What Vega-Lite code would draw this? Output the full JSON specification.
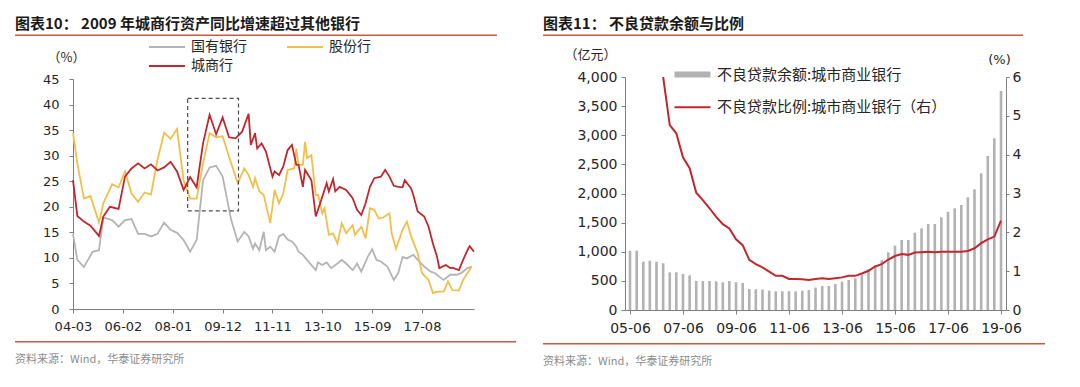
{
"$schema":"https://vega.github.io/schema/vega-lite/v6.json",
"background":"white",
"padding":{"left":15,"top":16.5,"right":5,"bottom":5},
"config":{
 "view":{"stroke":null},
 "font":"Noto Sans CJK SC",
 "axis":{"grid":false,"domainColor":"#7f7f7f","tickColor":"#7f7f7f","tickSize":4,"labelFont":"DejaVu Sans","labelFontSize":13,"labelColor":"#262626","titleFont":"Noto Sans CJK SC","titleFontWeight":"normal","titleFontSize":13,"titleColor":"#262626","labelFlush":false,"labelOverlap":false,"labelBound":false},
 "legend":{"labelFont":"Noto Sans CJK SC","labelFontSize":15,"labelColor":"#262626","padding":0,"labelLimit":500},
 "title":{"font":"Noto Sans CJK SC"}
},
"spacing":27,
"resolve":{"scale":{"color":"independent","fill":"independent","stroke":"independent"},"legend":{"color":"independent","fill":"independent","stroke":"independent"}},
"hconcat":[
 {
  "spacing":3.5,
  "resolve":{"scale":{"color":"independent","fill":"independent","stroke":"independent"},"legend":{"color":"independent","fill":"independent","stroke":"independent"}},
  "vconcat":[
   {"width":482,"height":1.5,"view":{"fill":"#c55a45","stroke":null},
    "title":{"text":"图表10： 2009 年城商行资产同比增速超过其他银行","anchor":"start","fontSize":15,"fontWeight":"bold","color":"#1a1a1a","offset":3},
    "data":{"values":[{}]},"mark":{"type":"point","opacity":0,"size":1},"encoding":{}},
   {
    "spacing":8,
    "resolve":{"scale":{"color":"independent","fill":"independent","stroke":"independent"},"legend":{"color":"independent","fill":"independent","stroke":"independent"}},
    "vconcat":[
     {
      "spacing":0,
      "resolve":{"scale":{"color":"independent","fill":"independent","stroke":"independent"},"legend":{"color":"independent","fill":"independent","stroke":"independent"}},
      "hconcat":[
       {"width":26.5,"height":230,"view":{"fill":"transparent","stroke":null},"data":{"values":[{}]},"mark":{"type":"point","opacity":0,"size":1},"encoding":{}},
       {
        "width":401,"height":230,
        "layer":[
         {
          "data":{"values":[
{"d":"2004-03","s":"国有银行","v":14.7},{"d":"2004-05","s":"国有银行","v":9.6},{"d":"2004-08","s":"国有银行","v":8.2},{"d":"2004-12","s":"国有银行","v":11.2},{"d":"2005-03","s":"国有银行","v":11.5},{"d":"2005-05","s":"国有银行","v":17.9},{"d":"2005-09","s":"国有银行","v":17.4},{"d":"2005-12","s":"国有银行","v":16.1},{"d":"2006-03","s":"国有银行","v":17.4},{"d":"2006-06","s":"国有银行","v":17.6},{"d":"2006-09","s":"国有银行","v":14.7},{"d":"2006-12","s":"国有银行","v":14.7},{"d":"2007-03","s":"国有银行","v":14.2},{"d":"2007-06","s":"国有银行","v":14.7},{"d":"2007-09","s":"国有银行","v":16.9},{"d":"2007-12","s":"国有银行","v":15.5},{"d":"2008-03","s":"国有银行","v":14.9},{"d":"2008-06","s":"国有银行","v":13.5},{"d":"2008-09","s":"国有银行","v":11.2},{"d":"2008-12","s":"国有银行","v":13.5},{"d":"2009-03","s":"国有银行","v":25.2},{"d":"2009-06","s":"国有银行","v":27.7},{"d":"2009-09","s":"国有银行","v":28.0},{"d":"2009-12","s":"国有银行","v":25.9},{"d":"2010-04","s":"国有银行","v":17.4},{"d":"2010-07","s":"国有银行","v":13.2},{"d":"2010-10","s":"国有银行","v":15.1},{"d":"2010-12","s":"国有银行","v":14.2},{"d":"2011-02","s":"国有银行","v":11.8},{"d":"2011-03","s":"国有银行","v":12.8},{"d":"2011-05","s":"国有银行","v":11.5},{"d":"2011-07","s":"国有银行","v":15.1},{"d":"2011-08","s":"国有银行","v":11.5},{"d":"2011-10","s":"国有银行","v":12.2},{"d":"2011-12","s":"国有银行","v":11.2},{"d":"2012-02","s":"国有银行","v":14.2},{"d":"2012-04","s":"国有银行","v":14.7},{"d":"2012-06","s":"国有银行","v":13.6},{"d":"2012-08","s":"国有银行","v":13.2},{"d":"2012-10","s":"国有银行","v":12.2},{"d":"2012-11","s":"国有银行","v":11.2},{"d":"2013-01","s":"国有银行","v":10.6},{"d":"2013-03","s":"国有银行","v":9.6},{"d":"2013-05","s":"国有银行","v":8.6},{"d":"2013-07","s":"国有银行","v":7.6},{"d":"2013-08","s":"国有银行","v":9.1},{"d":"2013-10","s":"国有银行","v":8.6},{"d":"2013-12","s":"国有银行","v":9.1},{"d":"2014-02","s":"国有银行","v":8.0},{"d":"2014-05","s":"国有银行","v":8.9},{"d":"2014-07","s":"国有银行","v":9.6},{"d":"2014-09","s":"国有银行","v":8.9},{"d":"2014-12","s":"国有银行","v":7.6},{"d":"2015-02","s":"国有银行","v":8.9},{"d":"2015-04","s":"国有银行","v":7.3},{"d":"2015-07","s":"国有银行","v":10.2},{"d":"2015-09","s":"国有银行","v":11.7},{"d":"2015-11","s":"国有银行","v":9.6},{"d":"2016-01","s":"国有银行","v":9.3},{"d":"2016-04","s":"国有银行","v":8.3},{"d":"2016-07","s":"国有银行","v":5.7},{"d":"2016-09","s":"国有银行","v":7.0},{"d":"2016-11","s":"国有银行","v":10.2},{"d":"2017-01","s":"国有银行","v":9.9},{"d":"2017-04","s":"国有银行","v":10.6},{"d":"2017-06","s":"国有银行","v":9.6},{"d":"2017-09","s":"国有银行","v":8.3},{"d":"2017-12","s":"国有银行","v":7.3},{"d":"2018-02","s":"国有银行","v":7.0},{"d":"2018-04","s":"国有银行","v":6.3},{"d":"2018-06","s":"国有银行","v":5.7},{"d":"2018-09","s":"国有银行","v":6.7},{"d":"2018-12","s":"国有银行","v":6.7},{"d":"2019-02","s":"国有银行","v":7.0},{"d":"2019-05","s":"国有银行","v":8.0},{"d":"2019-07","s":"国有银行","v":8.3},
{"d":"2004-03","s":"股份行","v":34.4},{"d":"2004-05","s":"股份行","v":28.5},{"d":"2004-08","s":"股份行","v":21.6},{"d":"2004-11","s":"股份行","v":22.1},{"d":"2005-03","s":"股份行","v":16.9},{"d":"2005-05","s":"股份行","v":20.7},{"d":"2005-09","s":"股份行","v":24.4},{"d":"2005-12","s":"股份行","v":23.8},{"d":"2006-03","s":"股份行","v":26.9},{"d":"2006-06","s":"股份行","v":22.6},{"d":"2006-09","s":"股份行","v":21.0},{"d":"2006-12","s":"股份行","v":22.8},{"d":"2007-03","s":"股份行","v":22.4},{"d":"2007-06","s":"股份行","v":29.2},{"d":"2007-09","s":"股份行","v":34.5},{"d":"2007-12","s":"股份行","v":33.3},{"d":"2008-03","s":"股份行","v":35.2},{"d":"2008-06","s":"股份行","v":25.2},{"d":"2008-09","s":"股份行","v":21.6},{"d":"2008-12","s":"股份行","v":21.6},{"d":"2009-03","s":"股份行","v":28.5},{"d":"2009-06","s":"股份行","v":34.4},{"d":"2009-09","s":"股份行","v":33.6},{"d":"2009-12","s":"股份行","v":33.8},{"d":"2010-03","s":"股份行","v":29.8},{"d":"2010-07","s":"股份行","v":24.6},{"d":"2010-10","s":"股份行","v":27.5},{"d":"2010-12","s":"股份行","v":26.2},{"d":"2011-02","s":"股份行","v":23.9},{"d":"2011-03","s":"股份行","v":25.6},{"d":"2011-05","s":"股份行","v":23.0},{"d":"2011-07","s":"股份行","v":22.3},{"d":"2011-10","s":"股份行","v":16.8},{"d":"2011-12","s":"股份行","v":23.3},{"d":"2012-02","s":"股份行","v":20.7},{"d":"2012-04","s":"股份行","v":22.6},{"d":"2012-06","s":"股份行","v":27.2},{"d":"2012-09","s":"股份行","v":27.5},{"d":"2012-10","s":"股份行","v":31.4},{"d":"2012-11","s":"股份行","v":28.2},{"d":"2013-01","s":"股份行","v":28.2},{"d":"2013-02","s":"股份行","v":32.7},{"d":"2013-03","s":"股份行","v":29.5},{"d":"2013-05","s":"股份行","v":30.1},{"d":"2013-07","s":"股份行","v":22.3},{"d":"2013-08","s":"股份行","v":22.3},{"d":"2013-10","s":"股份行","v":18.7},{"d":"2013-11","s":"股份行","v":19.7},{"d":"2014-01","s":"股份行","v":14.5},{"d":"2014-03","s":"股份行","v":14.8},{"d":"2014-05","s":"股份行","v":12.8},{"d":"2014-07","s":"股份行","v":16.8},{"d":"2014-09","s":"股份行","v":14.8},{"d":"2014-12","s":"股份行","v":16.4},{"d":"2015-01","s":"股份行","v":14.5},{"d":"2015-04","s":"股份行","v":16.1},{"d":"2015-06","s":"股份行","v":13.8},{"d":"2015-08","s":"股份行","v":19.7},{"d":"2015-10","s":"股份行","v":19.4},{"d":"2015-12","s":"股份行","v":17.7},{"d":"2016-02","s":"股份行","v":17.9},{"d":"2016-05","s":"股份行","v":18.7},{"d":"2016-06","s":"股份行","v":14.8},{"d":"2016-08","s":"股份行","v":11.8},{"d":"2016-11","s":"股份行","v":15.5},{"d":"2017-01","s":"股份行","v":17.1},{"d":"2017-03","s":"股份行","v":14.2},{"d":"2017-06","s":"股份行","v":10.9},{"d":"2017-08","s":"股份行","v":7.0},{"d":"2017-11","s":"股份行","v":5.7},{"d":"2018-01","s":"股份行","v":3.1},{"d":"2018-03","s":"股份行","v":3.4},{"d":"2018-06","s":"股份行","v":3.4},{"d":"2018-08","s":"股份行","v":5.4},{"d":"2018-10","s":"股份行","v":3.7},{"d":"2019-01","s":"股份行","v":3.6},{"d":"2019-03","s":"股份行","v":5.7},{"d":"2019-05","s":"股份行","v":7.0},{"d":"2019-07","s":"股份行","v":8.3},
{"d":"2004-03","s":"城商行","v":25.2},{"d":"2004-05","s":"城商行","v":18.2},{"d":"2004-08","s":"城商行","v":17.1},{"d":"2004-11","s":"城商行","v":16.3},{"d":"2005-03","s":"城商行","v":14.3},{"d":"2005-05","s":"城商行","v":18.1},{"d":"2005-08","s":"城商行","v":20.0},{"d":"2005-12","s":"城商行","v":19.6},{"d":"2006-03","s":"城商行","v":25.9},{"d":"2006-06","s":"城商行","v":27.5},{"d":"2006-09","s":"城商行","v":28.5},{"d":"2006-12","s":"城商行","v":27.5},{"d":"2007-03","s":"城商行","v":28.3},{"d":"2007-06","s":"城商行","v":27.1},{"d":"2007-09","s":"城商行","v":27.7},{"d":"2007-12","s":"城商行","v":28.8},{"d":"2008-03","s":"城商行","v":26.9},{"d":"2008-06","s":"城商行","v":23.3},{"d":"2008-09","s":"城商行","v":25.8},{"d":"2008-12","s":"城商行","v":23.8},{"d":"2009-03","s":"城商行","v":32.4},{"d":"2009-06","s":"城商行","v":38.0},{"d":"2009-09","s":"城商行","v":34.2},{"d":"2009-12","s":"城商行","v":37.5},{"d":"2010-03","s":"城商行","v":33.6},{"d":"2010-06","s":"城商行","v":33.4},{"d":"2010-09","s":"城商行","v":34.7},{"d":"2010-12","s":"城商行","v":38.2},{"d":"2011-01","s":"城商行","v":32.1},{"d":"2011-03","s":"城商行","v":34.4},{"d":"2011-04","s":"城商行","v":31.4},{"d":"2011-06","s":"城商行","v":32.4},{"d":"2011-08","s":"城商行","v":30.8},{"d":"2011-11","s":"城商行","v":25.9},{"d":"2011-12","s":"城商行","v":26.9},{"d":"2012-02","s":"城商行","v":26.2},{"d":"2012-04","s":"城商行","v":27.9},{"d":"2012-06","s":"城商行","v":31.1},{"d":"2012-08","s":"城商行","v":32.1},{"d":"2012-10","s":"城商行","v":28.2},{"d":"2012-11","s":"城商行","v":28.2},{"d":"2013-01","s":"城商行","v":23.9},{"d":"2013-02","s":"城商行","v":27.2},{"d":"2013-05","s":"城商行","v":25.2},{"d":"2013-07","s":"城商行","v":18.1},{"d":"2013-09","s":"城商行","v":20.7},{"d":"2013-12","s":"城商行","v":24.6},{"d":"2014-01","s":"城商行","v":23.0},{"d":"2014-03","s":"城商行","v":25.4},{"d":"2014-04","s":"城商行","v":23.0},{"d":"2014-06","s":"城商行","v":23.9},{"d":"2014-09","s":"城商行","v":23.3},{"d":"2014-12","s":"城商行","v":21.7},{"d":"2015-02","s":"城商行","v":19.4},{"d":"2015-04","s":"城商行","v":18.4},{"d":"2015-06","s":"城商行","v":20.7},{"d":"2015-08","s":"城商行","v":23.9},{"d":"2015-10","s":"城商行","v":25.6},{"d":"2016-01","s":"城商行","v":25.9},{"d":"2016-03","s":"城商行","v":27.2},{"d":"2016-05","s":"城商行","v":25.9},{"d":"2016-07","s":"城商行","v":24.1},{"d":"2016-09","s":"城商行","v":23.9},{"d":"2016-11","s":"城商行","v":23.8},{"d":"2016-12","s":"城商行","v":25.2},{"d":"2017-03","s":"城商行","v":23.6},{"d":"2017-04","s":"城商行","v":22.3},{"d":"2017-06","s":"城商行","v":19.1},{"d":"2017-09","s":"城商行","v":18.1},{"d":"2017-11","s":"城商行","v":16.1},{"d":"2018-01","s":"城商行","v":12.8},{"d":"2018-03","s":"城商行","v":10.2},{"d":"2018-04","s":"城商行","v":8.0},{"d":"2018-07","s":"城商行","v":8.6},{"d":"2018-09","s":"城商行","v":8.0},{"d":"2018-10","s":"城商行","v":8.1},{"d":"2019-01","s":"城商行","v":7.6},{"d":"2019-03","s":"城商行","v":9.6},{"d":"2019-05","s":"城商行","v":11.5},{"d":"2019-06","s":"城商行","v":12.3},{"d":"2019-08","s":"城商行","v":11.2}
          ]},
          "mark":{"type":"line","strokeWidth":1.8},
          "encoding":{
           "x":{"field":"d","type":"temporal",
                "scale":{"type":"utc","nice":false,"domain":[{"year":2004,"month":3,"date":1,"utc":true},{"year":2019,"month":8,"date":1,"utc":true}]},
                "axis":{"title":null,"format":"%y-%m","labelPadding":7,"labelOverlap":false,
                  "values":[{"year":2004,"month":3,"date":1,"utc":true},{"year":2006,"month":2,"date":1,"utc":true},{"year":2008,"month":1,"date":1,"utc":true},{"year":2009,"month":12,"date":1,"utc":true},{"year":2011,"month":11,"date":1,"utc":true},{"year":2013,"month":10,"date":1,"utc":true},{"year":2015,"month":9,"date":1,"utc":true},{"year":2017,"month":8,"date":1,"utc":true}]}},
           "y":{"field":"v","type":"quantitative","scale":{"domain":[0,45],"nice":false},
                "axis":{"values":[0,5,10,15,20,25,30,35,40,45],"format":"d","labelOverlap":false,"labelPadding":10,"title":"（%）","titleAngle":0,"titleX":-7,"titleY":-22,"titleAlign":"center","titleBaseline":"middle"}},
           "color":{"field":"s","type":"nominal","scale":{"domain":["国有银行","股份行","城商行"],"range":["#b4b4b4","#f2c04a","#c1272d"]},
                "legend":{"title":null,"orient":"none","legendX":87,"legendY":-39,"direction":"horizontal","columns":2,"symbolType":"M-3,0H3","symbolSize":144,"symbolStrokeWidth":2,"labelOffset":17,"columnPadding":36,"rowPadding":5,"labelFontSize":14}}
          }
         },
         {
          "data":{"values":[{"x1":"2008-07-28","x2":"2010-07-12","y1":41.2,"y2":19.2}]},
          "mark":{"type":"rect","fillOpacity":0,"stroke":"#4d4d4d","strokeWidth":1.2,"strokeDash":[4,3]},
          "encoding":{
           "x":{"field":"x1","type":"temporal",
                "axis":{"title":null,"format":"%y-%m","labelPadding":7,"labelOverlap":false,
                  "values":[{"year":2004,"month":3,"date":1,"utc":true},{"year":2006,"month":2,"date":1,"utc":true},{"year":2008,"month":1,"date":1,"utc":true},{"year":2009,"month":12,"date":1,"utc":true},{"year":2011,"month":11,"date":1,"utc":true},{"year":2013,"month":10,"date":1,"utc":true},{"year":2015,"month":9,"date":1,"utc":true},{"year":2017,"month":8,"date":1,"utc":true}]}},
           "x2":{"field":"x2"},
           "y":{"field":"y1","type":"quantitative",
                "axis":{"values":[0,5,10,15,20,25,30,35,40,45],"format":"d","labelOverlap":false,"labelPadding":10,"title":"（%）","titleAngle":0,"titleX":-7,"titleY":-22,"titleAlign":"center","titleBaseline":"middle"}},
           "y2":{"field":"y2"}}
         }
        ]
       }
      ]
     },
     {"width":501,"height":1.5,"view":{"fill":"#c55a45","stroke":null},
      "title":{"text":"资料来源：Wind，华泰证券研究所","orient":"bottom","anchor":"start","fontSize":11,"fontWeight":"normal","color":"#8c8c8c","offset":11},
      "data":{"values":[{}]},"mark":{"type":"point","opacity":0,"size":1},"encoding":{}}
    ]
   }
  ]
 },
 {
  "spacing":11.5,
  "resolve":{"scale":{"color":"independent","fill":"independent","stroke":"independent"},"legend":{"color":"independent","fill":"independent","stroke":"independent"}},
  "vconcat":[
   {"width":480,"height":1.5,"view":{"fill":"#c55a45","stroke":null},
    "title":{"text":"图表11： 不良贷款余额与比例","anchor":"start","fontSize":15,"fontWeight":"bold","color":"#1a1a1a","offset":3},
    "data":{"values":[{}]},"mark":{"type":"point","opacity":0,"size":1},"encoding":{}},
   {
    "spacing":8,
    "resolve":{"scale":{"color":"independent","fill":"independent","stroke":"independent"},"legend":{"color":"independent","fill":"independent","stroke":"independent"}},
    "vconcat":[
     {
      "spacing":0,
      "resolve":{"scale":{"color":"independent","fill":"independent","stroke":"independent"},"legend":{"color":"independent","fill":"independent","stroke":"independent"}},
      "hconcat":[
       {"width":20,"height":233,"view":{"fill":"transparent","stroke":null},"data":{"values":[{}]},"mark":{"type":"point","opacity":0,"size":1},"encoding":{}},
       {
        "width":381,"height":233,
        "data":{"values":[
{"d":"2005-06","n":1018,"r":null},{"d":"2005-09","n":1018,"r":null},{"d":"2005-12","n":830,"r":null},{"d":"2006-03","n":847,"r":null},{"d":"2006-06","n":830,"r":null},{"d":"2006-09","n":801,"r":6.0},{"d":"2006-12","n":647,"r":4.76},{"d":"2007-03","n":647,"r":4.55},{"d":"2007-06","n":618,"r":3.93},{"d":"2007-09","n":595,"r":3.65},{"d":"2007-12","n":498,"r":3.02},{"d":"2008-03","n":498,"r":2.83},{"d":"2008-06","n":498,"r":2.62},{"d":"2008-09","n":492,"r":2.40},{"d":"2008-12","n":475,"r":2.21},{"d":"2009-03","n":498,"r":2.10},{"d":"2009-06","n":475,"r":1.82},{"d":"2009-09","n":464,"r":1.67},{"d":"2009-12","n":361,"r":1.29},{"d":"2010-03","n":357,"r":1.18},{"d":"2010-06","n":352,"r":1.10},{"d":"2010-09","n":332,"r":0.99},{"d":"2010-12","n":321,"r":0.88},{"d":"2011-03","n":321,"r":0.88},{"d":"2011-06","n":321,"r":0.80},{"d":"2011-09","n":321,"r":0.80},{"d":"2011-12","n":332,"r":0.79},{"d":"2012-03","n":343,"r":0.77},{"d":"2012-06","n":385,"r":0.80},{"d":"2012-09","n":412,"r":0.82},{"d":"2012-12","n":412,"r":0.80},{"d":"2013-03","n":446,"r":0.82},{"d":"2013-06","n":487,"r":0.84},{"d":"2013-09","n":515,"r":0.88},{"d":"2013-12","n":543,"r":0.88},{"d":"2014-03","n":601,"r":0.94},{"d":"2014-06","n":698,"r":1.01},{"d":"2014-09","n":760,"r":1.12},{"d":"2014-12","n":855,"r":1.18},{"d":"2015-03","n":990,"r":1.30},{"d":"2015-06","n":1105,"r":1.39},{"d":"2015-09","n":1202,"r":1.44},{"d":"2015-12","n":1202,"r":1.42},{"d":"2016-03","n":1328,"r":1.48},{"d":"2016-06","n":1402,"r":1.49},{"d":"2016-09","n":1477,"r":1.50},{"d":"2016-12","n":1477,"r":1.49},{"d":"2017-03","n":1591,"r":1.50},{"d":"2017-06","n":1688,"r":1.50},{"d":"2017-09","n":1745,"r":1.50},{"d":"2017-12","n":1803,"r":1.50},{"d":"2018-03","n":1935,"r":1.52},{"d":"2018-06","n":2072,"r":1.59},{"d":"2018-09","n":2347,"r":1.72},{"d":"2018-12","n":2644,"r":1.82},{"d":"2019-03","n":2948,"r":1.89},{"d":"2019-06","n":3760,"r":2.30}
        ]},
        "layer":[
         {
          "mark":{"type":"bar","width":2.6},
          "encoding":{
           "x":{"field":"d","type":"temporal",
                "scale":{"type":"utc","nice":false,"domain":[{"year":2005,"month":6,"date":1,"utc":true},{"year":2019,"month":6,"date":1,"utc":true}]},
                "axis":{"title":null,"format":"%y-%m","labelPadding":7,"labelFontSize":14,"labelOverlap":false,
                  "values":[{"year":2005,"month":6,"date":1,"utc":true},{"year":2007,"month":6,"date":1,"utc":true},{"year":2009,"month":6,"date":1,"utc":true},{"year":2011,"month":6,"date":1,"utc":true},{"year":2013,"month":6,"date":1,"utc":true},{"year":2015,"month":6,"date":1,"utc":true},{"year":2017,"month":6,"date":1,"utc":true},{"year":2019,"month":6,"date":1,"utc":true}]}},
           "y":{"field":"n","type":"quantitative","scale":{"domain":[0,4000],"nice":false},
                "axis":{"orient":"left","values":[0,500,1000,1500,2000,2500,3000,3500,4000],"format":",d","labelOverlap":false,"labelPadding":4,"labelFontSize":14,"title":"（亿元）","titleAngle":0,"titleX":-35,"titleY":-23,"titleAlign":"center","titleBaseline":"middle"}},
           "fill":{"datum":"不良贷款余额:城市商业银行","scale":{"range":["#b2b2b2"]},
                "legend":{"title":null,"orient":"none","legendX":60,"legendY":-10,"symbolType":"M-3,-0.48H3V0.48H-3Z","symbolSize":144,"symbolStrokeWidth":0,"labelOffset":17,"labelFontSize":15}}
          }
         },
         {
          "mark":{"type":"line","strokeWidth":2,"clip":true},
          "encoding":{
           "x":{"field":"d","type":"temporal"},
           "y":{"field":"r","type":"quantitative","scale":{"domain":[0,6],"nice":false},
                "axis":{"orient":"right","values":[0,1,2,3,4,5,6],"format":"d","labelOverlap":false,"tickSize":3,"labelPadding":3,"labelFontSize":14,"title":"(%)","titleFont":"DejaVu Sans","titleAngle":0,"titleX":-7,"titleY":-18,"titleAlign":"center","titleBaseline":"middle"}},
           "stroke":{"datum":"不良贷款比例:城市商业银行（右）","scale":{"range":["#c1272d"]},
                "legend":{"title":null,"orient":"none","legendX":60,"legendY":22.8,"symbolType":"M-3,0H3","symbolSize":144,"symbolStrokeWidth":2,"labelOffset":17,"labelFontSize":15}}
          }
         }
        ],
        "resolve":{"scale":{"y":"independent"}}
       }
      ]
     },
     {"width":502,"height":1.5,"view":{"fill":"#c55a45","stroke":null},
      "title":{"text":"资料来源：Wind，华泰证券研究所","orient":"bottom","anchor":"start","fontSize":11,"fontWeight":"normal","color":"#8c8c8c","offset":11},
      "data":{"values":[{}]},"mark":{"type":"point","opacity":0,"size":1},"encoding":{}}
    ]
   }
  ]
 }
]
}
